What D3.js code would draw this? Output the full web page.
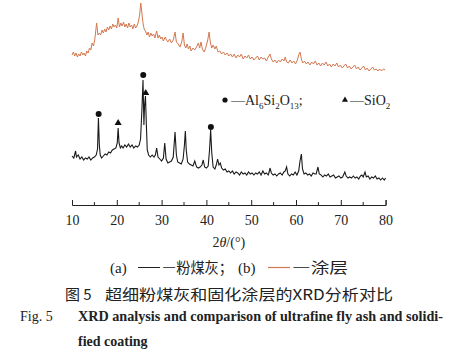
<!DOCTYPE html>
<html lang="zh">
<head>
<meta charset="UTF-8">
<title>XRD comparison</title>
<script src="https://d3js.org/d3.v7.min.js"></script>
<style>
  body { margin: 0; background: #fff; }
  .serif { font-family: "Liberation Serif", "DejaVu Serif", serif; }
  .cjk { font-family: "Noto Sans CJK SC", sans-serif; }
</style>
</head>
<body>
<div id="chart"></div>
<script>
// 2θ (deg) and intensity (a.u.)
const ashTheta = [10.0,10.4,10.8,11.0,11.4,11.8,12.2,12.6,13.0,13.4,13.8,14.2,14.6,15.0,15.4,15.7,15.9,16.1,16.3,16.6,
  17.0,17.4,17.8,18.2,18.6,19.0,19.4,19.8,20.1,20.3,20.5,20.8,21.1,21.4,21.8,22.2,22.6,23.0,23.4,23.8,
  24.2,24.6,25.0,25.3,25.6,25.85,26.05,26.2,26.4,26.6,26.8,27.1,27.5,27.9,28.3,28.6,28.9,29.2,29.6,30.0,
  30.4,30.7,31.0,31.4,31.8,32.2,32.6,33.0,33.3,33.6,34.0,34.4,34.8,35.1,35.3,35.5,35.8,36.2,36.6,37.0,
  37.4,37.8,38.2,38.6,39.0,39.3,39.6,40.0,40.4,40.7,40.95,41.2,41.5,41.9,42.2,42.5,42.8,43.1,43.4,43.8,
  44.2,44.6,45.0,45.4,45.8,46.2,46.6,47.0,47.4,47.8,48.2,48.6,49.0,49.4,49.8,50.2,50.6,51.0,51.4,51.8,
  52.2,52.6,53.0,53.4,53.8,54.0,54.2,54.5,54.9,55.3,55.7,56.1,56.5,56.9,57.3,57.6,57.9,58.2,58.6,59.0,
  59.4,59.8,60.2,60.6,60.9,61.2,61.45,61.8,62.2,62.6,63.0,63.4,63.8,64.2,64.5,64.9,65.2,65.6,66.0,66.4,
  66.8,67.2,67.6,68.0,68.4,68.8,69.2,69.6,70.0,70.4,70.9,71.2,71.6,72.0,72.4,72.8,73.2,73.6,74.0,74.4,
  74.7,75.0,75.4,75.7,76.1,76.5,76.9,77.3,77.7,78.1,78.5,78.9,79.3,79.7,80.0];
const ashI = [49,47,54,48,50,46,48,45,47,46,48,45,47,48,50,56,87,60,50,47,
  49,51,50,53,52,55,56,57,62,77,62,57,59,57,60,58,61,58,60,57,
  59,58,60,66,95,125,80,100,109,80,55,50,48,50,48,50,57,48,46,44,
  47,62,46,42,43,44,48,73,50,43,42,41,46,60,74,55,43,41,40,39,
  44,38,37,38,40,45,38,37,39,55,75,52,38,36,40,46,40,42,37,35,
  36,33,34,32,34,31,33,32,30,33,31,32,30,33,31,32,30,32,31,33,
  30,34,31,32,30,33,37,32,30,31,29,31,32,30,33,34,38,31,29,31,
  30,33,30,34,44,51,36,31,32,30,31,29,32,31,31,38,31,30,28,30,
  29,31,28,29,30,27,28,29,27,28,33,29,27,28,27,29,27,28,26,29,
  30,28,33,28,29,26,28,27,29,26,27,25,27,25,27];

const coatTheta = [10.0,10.3,10.6,10.9,11.2,11.5,11.8,12.1,12.4,12.7,13.0,13.3,13.6,13.9,14.2,14.5,14.8,15.1,15.5,15.8,
  16.1,16.4,16.7,17.0,17.3,17.6,17.9,18.2,18.5,18.8,19.1,19.4,19.7,20.0,20.3,20.6,20.9,21.2,21.5,21.8,
  22.1,22.4,22.7,23.0,23.3,23.6,23.9,24.2,24.5,24.8,25.1,25.35,25.6,25.85,26.1,26.4,26.7,27.0,27.3,27.6,
  27.9,28.2,28.5,28.9,29.2,29.5,29.8,30.1,30.4,30.8,31.1,31.4,31.8,32.2,32.6,33.0,33.3,33.7,34.1,34.5,
  34.8,35.1,35.4,35.7,36.0,36.3,36.6,37.0,37.4,37.8,38.2,38.5,38.8,39.1,39.5,39.9,40.3,40.6,40.9,41.2,
  41.5,41.9,42.2,42.6,43.0,43.4,43.8,44.2,44.6,45.0,45.4,45.8,46.2,46.6,47.0,47.4,47.8,48.2,48.6,49.0,
  49.4,49.8,50.2,50.6,51.0,51.4,51.8,52.2,52.6,53.0,53.4,53.8,54.2,54.5,54.9,55.3,55.7,56.1,56.5,56.9,
  57.3,57.6,57.9,58.3,58.7,59.1,59.5,59.9,60.3,60.6,60.9,61.2,61.5,61.9,62.3,62.7,63.1,63.5,63.9,64.3,
  64.7,65.1,65.5,65.9,66.3,66.7,67.1,67.5,67.9,68.3,68.7,69.1,69.5,69.9,70.3,70.7,71.1,71.5,71.9,72.3,
  72.7,73.1,73.5,73.9,74.3,74.7,75.1,75.5,75.9,76.3,76.7,77.1,77.5,77.9,78.3,78.7,79.1,79.5,79.9];
const coatI = [150,153,149,152,148,151,149,153,150,152,149,154,152,157,155,162,159,166,182,170,
  172,170,175,172,176,173,178,175,179,176,181,178,180,177,187,178,182,179,183,178,
  181,177,182,178,180,176,181,177,179,183,190,202,192,182,176,174,170,173,168,172,
  169,171,167,174,167,170,166,168,164,168,165,163,166,162,165,173,163,161,158,163,
  172,160,157,161,156,159,154,157,155,158,162,157,163,156,153,158,165,173,162,157,
  160,156,159,153,154,151,153,150,152,149,151,148,151,147,150,148,151,146,149,147,
  150,146,148,145,147,149,145,148,146,147,144,148,151,146,143,145,142,145,143,146,
  144,148,143,142,145,142,144,141,145,150,153,146,142,144,141,143,140,143,141,144,
  140,142,139,142,140,143,139,141,138,141,139,142,138,140,137,139,141,137,139,136,
  138,140,136,138,135,137,139,135,137,134,136,138,135,136,134,136,134,136,135];

// phase markers: dot = Al6Si2O13, triangle = SiO2
const dotTheta = [15.95, 25.9, 41.0];
const dotI = [91, 130, 78];
const triTheta = [20.3, 26.45];
const triI = [82, 112];

const xTicks = [10, 20, 30, 40, 50, 60, 70, 80];

const W = 451, H = 354;
const margin = { top: 0, left: 72, right: 65.4 };
const plotW = W - margin.left - margin.right;
const axisY = 205;

const svg = d3.select("#chart").append("svg")
  .attr("width", W).attr("height", H);

const x = d3.scaleLinear().domain([10, 80]).range([margin.left, margin.left + plotW]);
const y = d3.scaleLinear().domain([0, 205]).range([axisY, 0]);

const line = d3.line().x(d => x(d[0])).y(d => y(d[1]));

svg.append("path")
  .datum(d3.zip(coatTheta, coatI))
  .attr("fill", "none")
  .attr("stroke", "#d4784f")
  .attr("stroke-width", 1)
  .attr("d", line);

svg.append("path")
  .datum(d3.zip(ashTheta, ashI))
  .attr("fill", "none")
  .attr("stroke", "#1a1a1a")
  .attr("stroke-width", 1.1)
  .attr("d", line);

svg.selectAll(".dot")
  .data(d3.zip(dotTheta, dotI))
  .join("circle")
  .attr("cx", d => x(d[0]))
  .attr("cy", d => y(d[1]))
  .attr("r", 3)
  .attr("fill", "#111");

const tri = d3.symbol().type(d3.symbolTriangle).size(22);
svg.selectAll(".tri")
  .data(d3.zip(triTheta, triI))
  .join("path")
  .attr("transform", d => `translate(${x(d[0])},${y(d[1])})`)
  .attr("d", tri)
  .attr("fill", "#111");

// bottom axis with inward ticks
const axis = svg.append("g")
  .attr("transform", `translate(0,${axisY})`)
  .call(d3.axisBottom(x).tickValues(xTicks).tickSize(-5).tickPadding(10));
axis.selectAll(".tick text").attr("class", "serif").attr("font-size", 14).attr("fill", "#222");
axis.select(".domain").attr("stroke", "#222");
axis.selectAll(".tick line").attr("stroke", "#222");
axis.selectAll(".minor")
  .data(d3.range(15, 80, 10))
  .join("line")
  .attr("x1", d => x(d)).attr("x2", d => x(d))
  .attr("y1", 0).attr("y2", -3)
  .attr("stroke", "#222");

const xl = svg.append("text")
  .attr("class", "serif")
  .attr("x", x(45)).attr("y", 247)
  .attr("text-anchor", "middle")
  .attr("font-size", 14)
  .attr("fill", "#222");
xl.append("tspan").text("2");
xl.append("tspan").attr("font-style", "italic").text("θ");
xl.append("tspan").text("/(°)");

// phase legend
svg.append("circle").attr("cx", 225).attr("cy", 100).attr("r", 2.6).attr("fill", "#111");
const lg = svg.append("text")
  .attr("class", "serif")
  .attr("x", 231).attr("y", 105)
  .attr("font-size", 14)
  .attr("fill", "#222");
lg.append("tspan").text("—Al");
lg.append("tspan").attr("font-size", 9).attr("dy", 4).text("6");
lg.append("tspan").attr("dy", -4).text("Si");
lg.append("tspan").attr("font-size", 9).attr("dy", 4).text("2");
lg.append("tspan").attr("dy", -4).text("O");
lg.append("tspan").attr("font-size", 9).attr("dy", 4).text("13");
lg.append("tspan").attr("dy", -4).text(";");
svg.append("path")
  .attr("transform", "translate(345,100)")
  .attr("d", d3.symbol().type(d3.symbolTriangle).size(16))
  .attr("fill", "#111");
const lg2 = svg.append("text")
  .attr("class", "serif")
  .attr("x", 350).attr("y", 105)
  .attr("font-size", 14)
  .attr("fill", "#222");
lg2.append("tspan").text("—SiO");
lg2.append("tspan").attr("font-size", 9).attr("dy", 4).text("2");

// caption
const c1 = svg.append("text").attr("y", 273).attr("font-size", 15).attr("fill", "#222");
c1.append("tspan").attr("x", 110).attr("class", "serif").text("(a)");
c1.append("tspan").attr("x", 162).attr("class", "cjk")
  .attr("textLength", 71).attr("lengthAdjust", "spacingAndGlyphs").text("—粉煤灰；");
c1.append("tspan").attr("x", 238).attr("class", "serif").text("(b)");
c1.append("tspan").attr("x", 292).attr("class", "cjk")
  .attr("textLength", 56).attr("lengthAdjust", "spacingAndGlyphs").text("—涂层");
svg.append("line").attr("x1", 138).attr("x2", 160).attr("y1", 267.5).attr("y2", 267.5)
  .attr("stroke", "#222").attr("stroke-width", 1);
svg.append("line").attr("x1", 268).attr("x2", 290).attr("y1", 267.5).attr("y2", 267.5)
  .attr("stroke", "#d4784f").attr("stroke-width", 1.2);

svg.append("text").attr("class", "cjk").attr("x", 65).attr("y", 300)
  .attr("font-size", 15).attr("fill", "#222")
  .text("图 5");
svg.append("text").attr("class", "cjk").attr("x", 105).attr("y", 300)
  .attr("font-size", 15).attr("fill", "#222")
  .attr("textLength", 288).attr("lengthAdjust", "spacingAndGlyphs")
  .text("超细粉煤灰和固化涂层的XRD分析对比");

svg.append("text").attr("class", "serif").attr("x", 20).attr("y", 321)
  .attr("font-size", 14).attr("fill", "#222").text("Fig. 5");
svg.append("text").attr("class", "serif").attr("x", 78).attr("y", 321)
  .attr("font-size", 14).attr("font-weight", "bold").attr("fill", "#222")
  .attr("textLength", 365).attr("lengthAdjust", "spacingAndGlyphs")
  .text("XRD analysis and comparison of ultrafine fly ash and solidi-");
svg.append("text").attr("class", "serif").attr("x", 78).attr("y", 346)
  .attr("font-size", 14).attr("font-weight", "bold").attr("fill", "#222")
  .text("fied coating");
</script>
</body>
</html>
